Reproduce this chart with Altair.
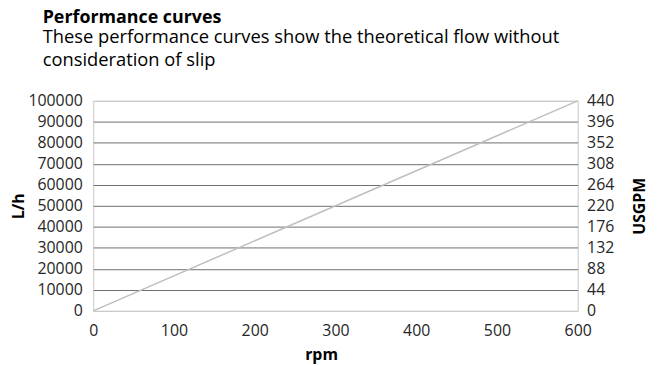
import altair as alt
import pandas as pd

rpm = [0, 600]
flow_lh = [0, 100000]
flow_usgpm = [0, 440]

lh_ticks = [0, 10000, 20000, 30000, 40000, 50000, 60000, 70000, 80000, 90000, 100000]
usgpm_ticks = [0, 44, 88, 132, 176, 220, 264, 308, 352, 396, 440]
rpm_ticks = [0, 100, 200, 300, 400, 500, 600]

df = pd.DataFrame({"rpm": rpm, "lh": flow_lh, "usgpm": flow_usgpm})

FONT = "Open Sans"
LABEL_COLOR = "#262626"
LABEL_SIZE = 16
TITLE_SIZE = 16

x_enc = alt.X(
    "rpm:Q",
    scale=alt.Scale(domain=[0, 600], nice=False),
    axis=alt.Axis(
        values=rpm_ticks, title="rpm", grid=False, domain=False, ticks=False,
        labelFlush=False,
        labelPadding=12, labelFontSize=LABEL_SIZE, labelFont=FONT, labelColor=LABEL_COLOR,
        titleFont=FONT, titleFontSize=TITLE_SIZE, titleFontWeight="bold", titleColor="#000000",
        titleX=230, titleY=49, titleBaseline="alphabetic", titleAlign="center",
    ),
)

left = alt.Chart(df).mark_line(color="#bfbfbf", strokeWidth=1.5).encode(
    x=x_enc,
    y=alt.Y(
        "lh:Q",
        scale=alt.Scale(domain=[0, 100000], nice=False),
        axis=alt.Axis(
            values=lh_ticks, format="d", title="L/h", orient="left",
            grid=True,
            gridColor={"condition": {"test": "datum.value == 0 || datum.value == 100000", "value": "#c8c8c8"}, "value": "#6e6e6e"},
            gridWidth=1, labelFlush=False,
            domain=False, ticks=False, labelPadding=11,
            labelFontSize=LABEL_SIZE, labelFont=FONT, labelColor=LABEL_COLOR,
            titleFont=FONT, titleFontSize=TITLE_SIZE, titleFontWeight="bold", titleColor="#000000",
            titleAngle=270, titleX=-75, titleY=106, titleAlign="center", titleBaseline="middle",
        ),
    ),
)

right = alt.Chart(df).mark_line(strokeOpacity=0).encode(
    x=x_enc,
    y=alt.Y(
        "usgpm:Q",
        scale=alt.Scale(domain=[0, 440], nice=False),
        axis=alt.Axis(
            values=usgpm_ticks, format="d", title="USGPM", orient="right",
            grid=False, domain=False, ticks=False, labelPadding=9, labelFlush=False,
            labelFontSize=LABEL_SIZE, labelFont=FONT, labelColor=LABEL_COLOR,
            titleFont=FONT, titleFontSize=TITLE_SIZE, titleFontWeight="bold", titleColor="#000000",
            titleAngle=270, titleX=62, titleY=106, titleAlign="center", titleBaseline="middle",
        ),
    ),
)

chart = (
    alt.layer(left, right)
    .resolve_scale(y="independent")
    .properties(
        width=489,
        height=212,
        autosize=alt.AutoSizeParams(type="none"),
        padding={"left": 86, "top": 92, "right": 72, "bottom": 54},
        title=alt.TitleParams(
            text="Performance curves",
            subtitle=["These performance curves show the theoretical flow without", "consideration of slip"],
            anchor="start", frame="group",
            font=FONT, fontSize=18, fontWeight="bold", color="#000000",
            subtitleFont=FONT, subtitleFontSize=18.5, subtitleColor="#000000",
            subtitleLineHeight=23, subtitlePadding=1,
            dx=-51, dy=-14, offset=10,
        ),
    )
    .configure_view(stroke="#c8c8c8", strokeWidth=1)
)

chart.save("out.html", embed_options={"renderer": "svg", "actions": False})
